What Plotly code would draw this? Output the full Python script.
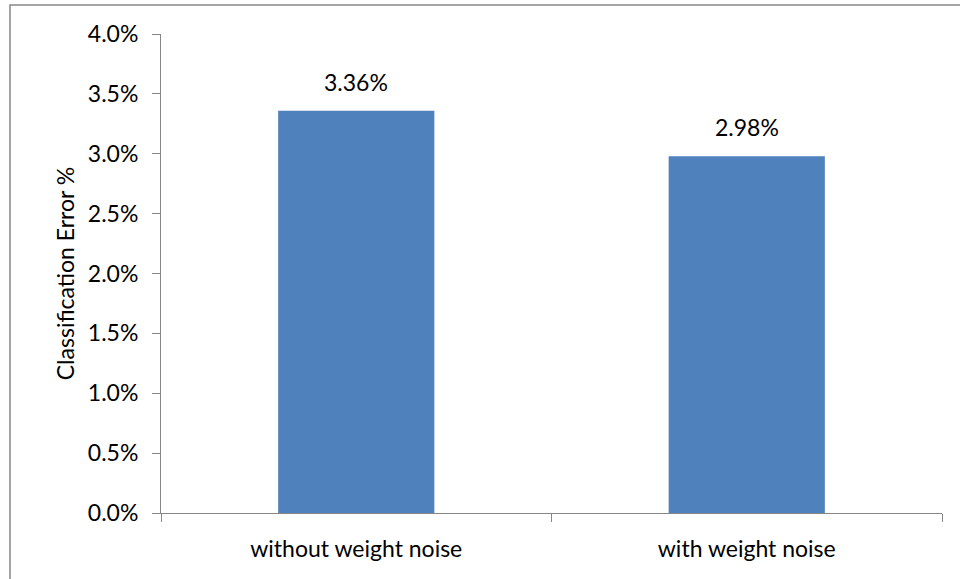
import plotly.graph_objects as go

categories = ["without weight noise", "with weight noise"]
errors = [3.36, 2.98]
labels = ["3.36%", "2.98%"]
yticks = [0.0, 0.5, 1.0, 1.5, 2.0, 2.5, 3.0, 3.5, 4.0]
ytick_text = ["0.0%", "0.5%", "1.0%", "1.5%", "2.0%", "2.5%", "3.0%", "3.5%", "4.0%"]

FONT = "Lato"
FS = 23
GRAY = "#868686"

fig = go.Figure()
fig.add_trace(go.Bar(
    x=categories, y=errors,
    marker=dict(color="#4F81BD", line=dict(width=0)),
    width=0.4, hoverinfo="skip",
))

for c, v, t in zip(categories, errors, labels):
    fig.add_annotation(x=c, y=v, text=t, showarrow=False, yanchor="bottom",
                       yshift=13, font=dict(family=FONT, size=FS, color="#000000"))

fig.update_layout(
    width=960, height=579,
    margin=dict(l=161, r=18, t=34, b=66),
    paper_bgcolor="white", plot_bgcolor="white",
    showlegend=False,
    font=dict(family=FONT, size=FS, color="#000000"),
    xaxis=dict(
        type="category", tickson="boundaries", ticks="outside", ticklen=8,
        tickcolor=GRAY, showline=True, linecolor=GRAY, linewidth=1,
        showgrid=False, tickfont=dict(family=FONT, size=FS),
        range=[-0.5, 1.5], ticklabelstandoff=15,
    ),
    yaxis=dict(
        range=[0, 4.0], tickvals=yticks, ticktext=ytick_text,
        ticks="outside", ticklen=8, tickcolor=GRAY, showline=True,
        linecolor=GRAY, linewidth=1, showgrid=False, zeroline=False,
        tickfont=dict(family=FONT, size=FS), ticklabelstandoff=9,
        title=dict(text="Classification Error %", font=dict(family=FONT, size=FS), standoff=6),
    ),
    shapes=[dict(type="rect", xref="paper", yref="paper",
                 x0=(10 - 161) / 781, x1=1.2, y0=-0.3, y1=(513 - 5) / 479,
                 line=dict(color=GRAY, width=1.5), fillcolor="rgba(0,0,0,0)", layer="below")],
)

fig.write_html("out.html", config={"displayModeBar": False},
               post_script="document.body.style.margin='0';")
